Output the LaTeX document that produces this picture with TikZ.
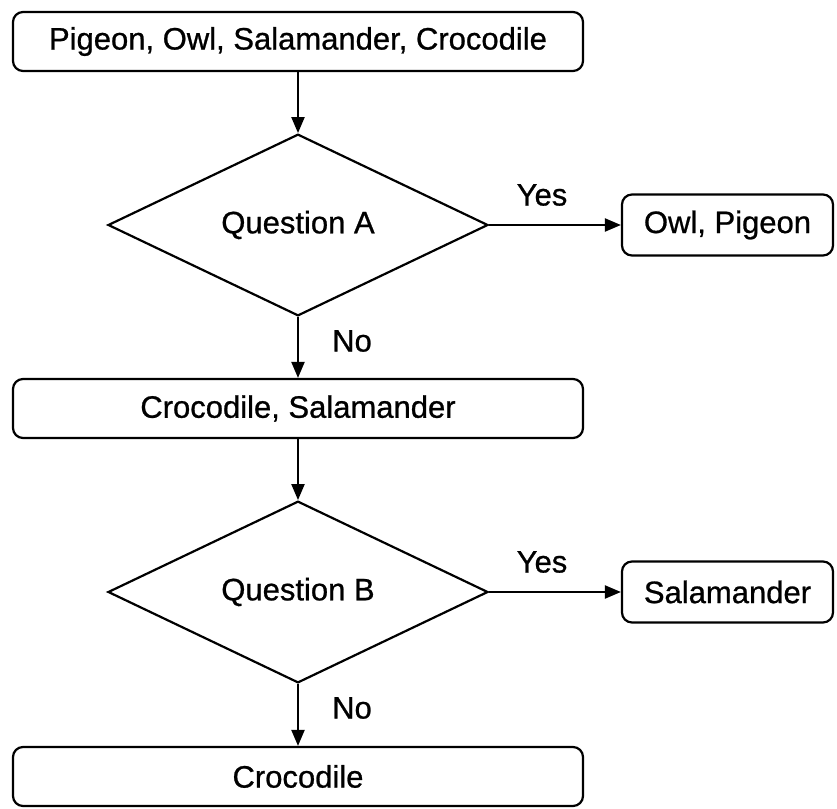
\documentclass[tikz,border=0pt]{standalone}
\usepackage{fontspec}
\setmainfont{Liberation Sans}
\newfontfamily\diagfont{Liberation Sans}[BoldFont={Liberation Sans},BoldFeatures={FakeBold=0.8}]
\usetikzlibrary{shapes.geometric,arrows.meta}
\begin{document}
\begin{tikzpicture}[x=1pt,y=-1pt,
  txt/.style={font=\diagfont\bfseries\fontsize{31}{31}\selectfont},
  box/.style={draw, line width=2.2pt, rounded corners=10pt, minimum height=59pt, inner sep=0pt, txt},
  wide/.style={box, minimum width=570pt},
  small/.style={box, minimum width=211pt, minimum height=61pt},
  decision/.style={diamond, draw, line width=2.2pt, minimum width=380pt, minimum height=170pt, inner sep=0pt, txt},
  conn/.style={line width=2.2pt, -{Triangle[length=16pt,width=13pt]}},
  lbl/.style={txt, inner sep=0pt}]
\useasboundingbox (0,0) rectangle (837,808);
\node[wide] (top) at (298,41.5) {Pigeon, Owl, Salamander, Crocodile};
\node[decision] (qa) at (298,225) {Question A};
\node[small] (owl) at (727.5,225) {Owl, Pigeon};
\node[wide] (cs) at (298,408.5) {Crocodile, Salamander};
\node[decision] (qb) at (298,592) {Question B};
\node[small] (sal) at (727.5,592) {Salamander};
\node[wide] (croc) at (298,776.5) {Crocodile};
\draw[conn] (top) -- (qa);
\draw[conn] (qa) -- (owl);
\draw[conn] (qa) -- (cs);
\draw[conn] (cs) -- (qb);
\draw[conn] (qb) -- (sal);
\draw[conn] (qb) -- (croc);
\node[lbl] (yesA) at (542,195) {Yes};
\node[lbl] (noA) at (352,341) {No};
\node[lbl] (yesB) at (542,562) {Yes};
\node[lbl] (noB) at (352,708) {No};
\end{tikzpicture}
\end{document}
